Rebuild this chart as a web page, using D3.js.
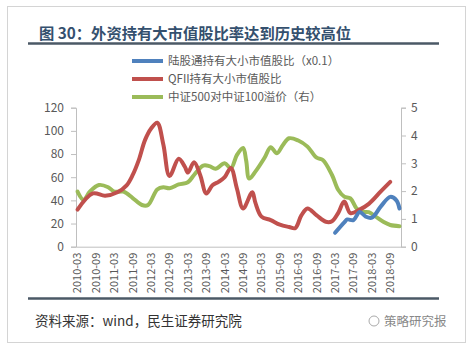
<!DOCTYPE html>
<html><head><meta charset="utf-8">
<script src="https://cdn.jsdelivr.net/npm/d3@7"></script>
<style>body{margin:0;background:#fff}svg{display:block}</style>
</head><body><svg id="c" width="471" height="347"></svg>
<script>
const title = "图 30：外资持有大市值股比率达到历史较高位";
const source = "资料来源：wind，民生证券研究院";
const seriesNames = ["陆股通持有大小市值股比（x0.1）", "QFII持有大小市值股比", "中证500对中证100溢价（右）"];
const colors = ["#4F81BD", "#C0504D", "#9BBB59"];
const firstMonth = "2010-03", lastMonth = "2018-12";
const tickLabels = ["2010-03","2010-09","2011-03","2011-09","2012-03","2012-09","2013-03","2013-09","2014-03","2014-09","2015-03","2015-09","2016-03","2016-09","2017-03","2017-09","2018-03","2018-09"];
const leftTicks = [0,20,40,60,80,100,120];
const rightTicks = [0,1,2,3,4,5];

const hkMonths = ["2017-03","2017-06","2017-07","2017-09","2017-11","2018-01","2018-03","2018-06","2018-09","2018-11","2018-12"];
const hkValues = [12,21,23.5,23,30,26,25,35,43,40,33];

const qfiiMonths = ["2010-03","2010-08","2010-12","2011-04","2011-07","2011-09","2011-11","2012-01","2012-03","2012-05","2012-07","2012-09","2012-12","2013-02","2013-03","2013-05","2013-07","2013-09","2013-11","2014-01","2014-03","2014-05","2014-07","2014-09","2014-12","2015-01","2015-03","2015-06","2015-09","2015-12","2016-02","2016-04","2016-06","2016-09","2016-12","2017-02","2017-04","2017-06","2017-08","2017-11","2018-02","2018-06","2018-09"];
const qfiiValues = [32,46,44,47,53,62,75,92,102,107,88,61,76,69,64,73,62,46,53,56,60,68,50,33,47,38,26,23,19,17,16,27,33,27,21.5,22,29,39,29,32,37,48,56];

const premMonths = ["2010-03","2010-05","2010-07","2010-10","2011-01","2011-03","2011-06","2011-09","2011-12","2012-02","2012-05","2012-07","2012-09","2012-12","2013-03","2013-05","2013-08","2013-10","2013-12","2014-03","2014-05","2014-07","2014-09","2014-10","2014-11","2015-01","2015-04","2015-06","2015-08","2015-10","2015-12","2016-03","2016-06","2016-09","2016-11","2017-02","2017-04","2017-06","2017-08","2017-10","2017-12","2018-02","2018-04","2018-07","2018-09","2018-12"];
const premValues = [1.98,1.68,1.98,2.22,2.14,1.98,1.98,1.75,1.5,1.5,2.06,2.14,2.1,2.24,2.32,2.58,2.92,2.9,2.8,3.0,2.82,3.3,3.55,3.1,2.45,2.7,3.2,3.58,3.36,3.66,3.9,3.82,3.6,3.2,3.12,2.58,2.05,1.8,1.74,1.38,1.26,1.24,1.1,0.88,0.78,0.74];

const fmt = d3.timeFormat("%Y-%m"), parse = d3.timeParse("%Y-%m");
const months = d3.timeMonths(parse(firstMonth), d3.timeMonth.offset(parse(lastMonth),1)).map(fmt);

const svg = d3.select("#c");
const font = "'Noto Sans CJK SC','Noto Sans',sans-serif";

svg.append("rect").attr("x",7.5).attr("y",6.5).attr("width",458).attr("height",336)
  .attr("fill","#fff").attr("stroke","#d4d4d4");

svg.append("text").attr("x",39).attr("y",39).text(title)
  .attr("font-family",font).attr("font-weight","bold").attr("font-size",15.3)
  .attr("fill","#34506e");
svg.append("line").attr("x1",28).attr("x2",439).attr("y1",43.5).attr("y2",43.5)
  .attr("stroke","#4b5966").attr("stroke-width",2.5);

const x = d3.scaleBand().domain(months).range([76,401]);
const cx = m => x(m) + x.bandwidth()/2;
const yL = d3.scaleLinear().domain([0,120]).range([246.7,107.7]);
const yR = d3.scaleLinear().domain([0,5]).range([246.7,107.7]);

const axL = svg.append("g").attr("transform","translate(76,0)")
  .call(d3.axisLeft(yL).tickValues(leftTicks).tickFormat(d3.format("d")).tickSize(5).tickPadding(7));
const axR = svg.append("g").attr("transform","translate(401,0)")
  .call(d3.axisRight(yR).tickValues(rightTicks).tickFormat(d3.format("d")).tickSize(5).tickPadding(5));
const axB = svg.append("g").attr("transform","translate(0,246.7)")
  .call(d3.axisBottom(x).tickValues(tickLabels).tickSize(0).tickPadding(6));
[axL,axR,axB].forEach(g=>{
  g.selectAll("path,line").attr("stroke","#bfbfbf");
  g.selectAll("text").attr("font-family",font).attr("fill","#595959");
});
axL.selectAll("text").attr("font-size",12);
axR.selectAll("text").attr("font-size",12);
axB.selectAll("text").attr("font-size",11)
  .attr("transform","rotate(-90)")
  .attr("text-anchor","end").attr("dy","0.35em")
  .attr("x",-6).attr("y",0);

const line = (yS) => d3.line().x(d=>cx(d[0])).y(d=>yS(d[1])).curve(d3.curveCatmullRom.alpha(0.5));
const plot = (ms, vs, yS, col) => {
  const data = ms.map((m,i)=>[m,vs[i]]).filter(d=>x(d[0])!==undefined);
  svg.append("path").datum(data).attr("d",line(yS)).attr("fill","none")
    .attr("stroke",col).attr("stroke-width",4).attr("stroke-linejoin","round").attr("stroke-linecap","round");
};
plot(premMonths, premValues, yR, colors[2]);
plot(qfiiMonths, qfiiValues, yL, colors[1]);
plot(hkMonths, hkValues, yL, colors[0]);

const lg = svg.append("g");
seriesNames.forEach((n,i)=>{
  const yy = 61 + i*18;
  lg.append("line").attr("x1",132).attr("x2",163).attr("y1",yy).attr("y2",yy)
    .attr("stroke",colors[i]).attr("stroke-width",4);
  lg.append("text").attr("x",168).attr("y",yy).attr("dy","0.35em").text(n)
    .attr("font-family",font).attr("font-size",11.5).attr("fill","#595959");
});

svg.append("line").attr("x1",28).attr("x2",439).attr("y1",298.5).attr("y2",298.5)
  .attr("stroke","#4b5966").attr("stroke-width",2.5);
svg.append("text").attr("x",35).attr("y",326).text(source)
  .attr("font-family",font).attr("font-size",13.5).attr("fill","#333");
svg.append("circle").attr("cx",374).attr("cy",321).attr("r",5).attr("fill","none").attr("stroke","#aaa").attr("stroke-width",1);
svg.append("text").attr("x",384).attr("y",326).text("策略研究报")
  .attr("font-family",font).attr("font-size",12.5).attr("fill","#888");
</script></body></html>
